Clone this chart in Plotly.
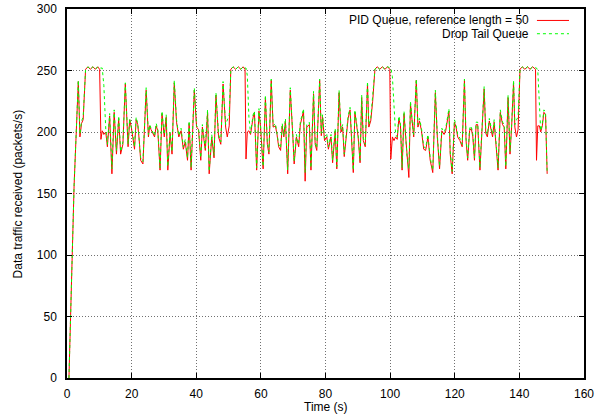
import plotly.graph_objects as go

# Time axis (s) shared by both series
time_s = [0.6, 2.2, 3.5, 4.0, 4.5, 5.0, 5.75, 6.5, 7.2, 8.0, 8.8, 9.5, 10.1, 10.5, 10.9, 11.4, 12.0,
          12.5, 13.2, 13.9, 14.6, 15.3, 16.0, 16.6, 17.3, 18.05, 18.9, 19.4, 19.9, 20.4, 20.9, 21.4, 21.9,
          22.3, 22.8, 23.5, 24.5, 25.2, 25.6, 26.0, 27.1, 27.6, 28.1, 28.8, 29.4, 30.1, 30.7, 31.2, 31.9,
          32.5, 33.2, 33.9, 34.6, 35.3, 36.0, 36.6, 37.3, 37.8, 38.4, 39.4, 40.1, 40.7, 41.4, 41.9, 42.8,
          43.5, 44.0, 44.8, 45.5, 46.1, 46.9, 47.6, 48.3, 49.1, 49.6, 50.2, 50.7, 51.4, 52.2, 53.0, 53.8,
          54.5, 55.1, 55.4, 55.8, 56.3, 56.8, 57.6, 58.0, 58.7, 59.4, 59.9, 60.7, 61.4, 62.0, 62.5, 63.2,
          63.8, 64.5, 65.0, 65.5, 66.1, 66.6, 67.1, 67.6, 68.3, 69.1, 69.9, 70.3, 71.0, 71.7, 72.2, 72.7,
          73.2, 73.7, 74.2, 75.0, 75.5, 76.3, 76.8, 77.3, 78.2, 78.7, 79.1, 79.7, 80.4, 80.9, 81.7, 82.2,
          83.0, 83.5, 84.2, 84.8, 85.3, 85.8, 86.4, 87.0, 87.6, 88.6, 89.1, 89.6, 90.1, 90.7, 91.2, 91.7,
          92.3, 93.0, 93.4, 94.0, 94.6, 95.3, 96.0, 96.8, 97.6, 98.4, 99.2, 99.9, 100.2, 100.7, 101.2, 101.7,
          102.2, 102.7, 103.2, 103.7, 104.3, 104.7, 105.2, 105.8, 106.3, 106.9, 107.3, 108.1, 108.6, 109.1,
          109.7, 110.4, 111.0, 111.7, 112.4, 113.2, 114.0, 114.6, 115.3, 116.0, 116.7, 117.2, 118.2, 118.6,
          119.2, 119.9, 120.4, 120.9, 121.6, 122.3, 123.0, 123.5, 124.0, 124.6, 125.1, 125.6, 126.1, 126.6,
          127.1, 127.8, 128.4, 129.1, 129.6, 130.1, 130.7, 131.2, 131.7, 132.2, 132.7, 133.4, 134.1, 134.8,
          135.3, 135.8, 136.5, 137.1, 137.6, 138.2, 138.6, 139.1, 139.6, 140.2, 140.9, 141.7, 142.5, 143.3,
          144.1, 145.0, 145.3, 145.7, 146.2, 146.6, 147.1, 147.6, 148.1, 148.6]

# PID Queue, reference length = 50 (packets/s)
pid_rate = [0, 157, 241, 196, 207, 210, 251, 253, 251, 253, 251, 253, 251, 194, 201, 198, 200,
            188, 213, 166, 216, 182, 211, 182, 190, 239, 188, 210, 204, 195, 186, 210, 206,
            195, 177, 174, 234, 196, 205, 202, 196, 205, 201, 169, 215, 196, 212, 169, 199,
            182, 240, 208, 196, 201, 186, 192, 177, 207, 169, 234, 204, 202, 177, 204, 185,
            216, 166, 196, 179, 230, 196, 190, 239, 204, 196, 205, 251, 253, 251, 253, 251,
            253, 251, 178, 200, 201, 198, 212, 216, 169, 217, 204, 170, 228, 190, 182, 242,
            204, 205, 198, 188, 185, 205, 196, 209, 166, 234, 196, 174, 196, 188, 206, 211,
            217, 160, 204, 206, 169, 231, 190, 185, 242, 197, 212, 193, 196, 186, 196, 175,
            201, 170, 232, 200, 204, 180, 196, 211, 218, 167, 216, 204, 196, 175, 228, 193,
            188, 239, 204, 209, 225, 251, 253, 251, 253, 251, 253, 251, 178, 196, 193, 196,
            194, 211, 205, 169, 215, 200, 179, 163, 223, 204, 196, 242, 204, 209,
            201, 186, 185, 196, 177, 167, 232, 196, 170, 201, 198, 201, 217, 182,
            166, 208, 204, 196, 193, 188, 242, 193, 177, 201, 203, 196, 177, 206,
            206, 169, 204, 235, 199, 196, 209, 201, 196, 208, 193, 169, 216, 206,
            204, 170, 228, 182, 204, 240, 204, 196, 202, 251, 253, 251, 253, 251,
            253, 251, 177, 205, 205, 200, 205, 216, 214, 166]

# Drop Tail Queue (packets/s)
droptail_rate = [0, 157, 242, 198, 209, 212, 251, 253, 251, 253, 251, 253, 252, 252, 252, 238, 202,
                 190, 215, 170, 218, 185, 213, 184, 192, 240, 190, 211, 205, 197, 188, 212, 207,
                 196, 179, 176, 236, 198, 206, 203, 197, 207, 202, 171, 217, 198, 214, 172, 200,
                 184, 242, 210, 197, 203, 188, 194, 179, 209, 171, 236, 205, 203, 179, 206, 187,
                 218, 168, 198, 181, 232, 198, 192, 241, 206, 210, 214, 251, 253, 251, 253, 251,
                 253, 252, 252, 246, 212, 199, 214, 217, 171, 219, 205, 172, 230, 192, 184, 243,
                 205, 207, 199, 190, 187, 207, 197, 211, 169, 236, 197, 176, 198, 190, 208, 213,
                 219, 167, 206, 208, 171, 233, 192, 187, 243, 199, 214, 195, 198, 188, 198, 177,
                 203, 172, 234, 202, 206, 182, 198, 213, 220, 169, 218, 206, 198, 177, 230, 195,
                 190, 241, 206, 211, 227, 251, 253, 251, 253, 251, 253, 252, 252, 245, 215, 198,
                 196, 213, 207, 171, 217, 202, 181, 170, 225, 206, 198, 243, 206, 211,
                 203, 188, 187, 198, 179, 169, 234, 198, 172, 203, 200, 203, 219, 184,
                 168, 210, 206, 198, 195, 190, 243, 195, 179, 203, 205, 198, 179, 208,
                 208, 171, 206, 237, 201, 198, 211, 203, 198, 210, 195, 171, 218, 208,
                 206, 172, 230, 184, 206, 242, 206, 210, 212, 251, 253, 251, 253, 251,
                 253, 252, 252, 250, 215, 201, 207, 218, 216, 166]

x_ticks = [0, 20, 40, 60, 80, 100, 120, 140, 160]
y_ticks = [0, 50, 100, 150, 200, 250, 300]
series_names = ["PID Queue, reference length = 50", "Drop Tail Queue"]
series_colors = ["#ff0000", "#00ff00"]
x_title = "Time (s)"
y_title = "Data traffic received (packets/s)"

FONT = "Liberation Sans, Arial, Helvetica, sans-serif"

fig = go.Figure()
fig.add_trace(go.Scatter(x=time_s, y=pid_rate, mode="lines", name=series_names[0],
                         line=dict(color=series_colors[0], width=1), showlegend=False))
fig.add_trace(go.Scatter(x=time_s, y=droptail_rate, mode="lines", name=series_names[1],
                         line=dict(color=series_colors[1], width=1, dash="3px,3px"), showlegend=False))

axis_common = dict(showline=True, linecolor="black", linewidth=1.5, mirror="ticks",
                   ticks="inside", ticklen=5, tickwidth=1, tickcolor="black",
                   showgrid=True, gridcolor="#707070", griddash="1px,2px", gridwidth=1,
                   zeroline=False, automargin=False,
                   tickfont=dict(family=FONT, size=12, color="black"))

fig.update_xaxes(range=[0, 160], tickvals=x_ticks, ticktext=[str(v) for v in x_ticks],
                 ticklabelstandoff=4, **axis_common)
fig.update_yaxes(range=[0, 300], tickvals=y_ticks, ticktext=[str(v) for v in y_ticks],
                 ticklabelstandoff=6, **axis_common)

# Axis titles
fig.add_annotation(xref="paper", yref="paper", x=0.5, y=-0.079, text=x_title, showarrow=False,
                   xanchor="center", yanchor="middle", font=dict(family=FONT, size=12, color="black"))
fig.add_annotation(xref="paper", yref="paper", x=-0.095, y=0.5, text=y_title, showarrow=False,
                   textangle=-90, xanchor="center", yanchor="middle",
                   font=dict(family=FONT, size=12, color="black"))

# Gnuplot-style key: text right-aligned, sample line to the right
key_rows = [0.969, 0.933]
for name, color, yrow, dash in zip(series_names, series_colors, key_rows, ["solid", "3px,3px"]):
    fig.add_annotation(xref="paper", yref="paper", x=0.8956, y=yrow, text=name, showarrow=False,
                       xanchor="right", yanchor="middle", borderpad=0,
                       font=dict(family=FONT, size=12, color="black"))
    fig.add_shape(type="line", xref="paper", yref="paper", x0=0.909, x1=0.971, y0=yrow, y1=yrow,
                  line=dict(color=color, width=1, dash=dash))

fig.update_layout(width=606, height=418, margin=dict(l=67, r=22, t=9, b=40),
                  paper_bgcolor="white", plot_bgcolor="white",
                  font=dict(family=FONT, size=12, color="black"))

fig.write_html("out.html", config={"displayModeBar": False},
               post_script="document.body.style.margin='0';")
